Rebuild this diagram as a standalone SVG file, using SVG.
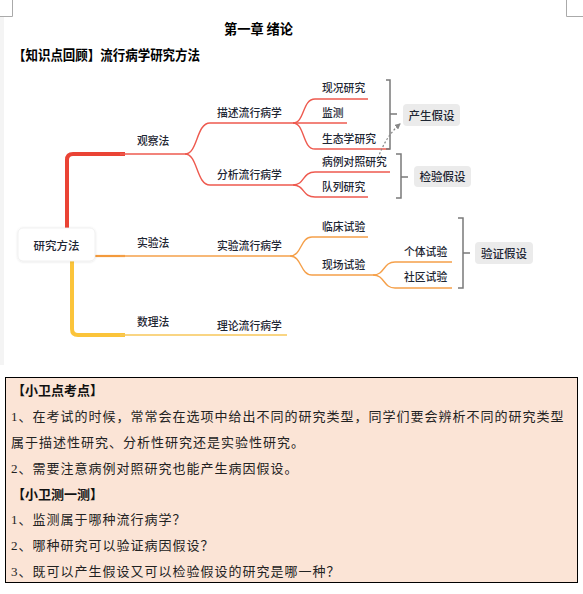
<svg xmlns="http://www.w3.org/2000/svg" width="583" height="594" viewBox="0 0 583 594">
<style>
.mm{font-family:"Noto Sans CJK SC","Noto Sans",sans-serif;font-size:10.8px;fill:#1e2633;font-weight:500}
.tag{font-family:"Noto Sans CJK SC","Noto Sans",sans-serif;font-size:11.5px;fill:#1e2633;font-weight:500}
.h{font-family:"Noto Sans CJK SC",sans-serif;font-size:13.5px;font-weight:bold;fill:#000}
.b{font-family:"Liberation Serif","Noto Sans CJK SC",serif;font-size:13px;letter-spacing:1px;fill:#222}
.bb{font-family:"Liberation Serif","Noto Sans CJK SC",serif;font-size:13px;font-weight:bold;fill:#111}
.red{fill:none;stroke:#ee5a4f;stroke-width:1.4}
.org{fill:none;stroke:#f5a04a;stroke-width:1.4}
.yel{fill:none;stroke:#f7c75a;stroke-width:1.4}
.brk{fill:none;stroke:#7a7a7a;stroke-width:1.5}
.box{fill:#ebebeb}
</style>
<defs>
<marker id="ah" markerWidth="6" markerHeight="6" refX="5" refY="3" orient="auto" markerUnits="userSpaceOnUse">
<path d="M0,0 L6,3 L0,6 Z" fill="#888"/>
</marker>
<filter id="sh" x="-20%" y="-20%" width="140%" height="150%">
<feDropShadow dx="0" dy="0.5" stdDeviation="1" flood-color="#000" flood-opacity="0.12"/>
</filter>
</defs>
<rect x="0" y="0" width="583" height="594" fill="#fff"/>
<rect x="0" y="17" width="4" height="348" fill="#f4f4f4"/>
<path d="M12.5,0 V16.5 H0" fill="none" stroke="#aaa" stroke-width="1"/>
<path d="M566.5,0 V16.5 H583" fill="none" stroke="#aaa" stroke-width="1"/>
<g id="title">
<text class="h" x="224" y="34" textLength="69" lengthAdjust="spacingAndGlyphs">第一章 绪论</text>
<text class="h" x="13" y="60" textLength="187" lengthAdjust="spacingAndGlyphs">【知识点回顾】流行病学研究方法</text>
</g>
<g id="connectors">
<path d="M67,228 V160 Q67,154 73,154 H125" fill="none" stroke="#ea4335" stroke-width="4"/>
<path class="red" d="M120,154 H185"/>
<path class="red" d="M185,154 C198,154 196,123 210,123 H293"/>
<path class="red" d="M185,154 C198,154 196,185 210,185 H293"/>
<path class="red" d="M293,123 C305,123 302,99 315,99 H368"/>
<path class="red" d="M293,123 H347"/>
<path class="red" d="M293,123 C305,123 302,149 315,149 H390"/>
<path class="red" d="M293,185 C305,185 302,172 315,172 H390"/>
<path class="red" d="M293,185 C305,185 302,197 315,197 H368"/>
<path d="M95,256 H125" fill="none" stroke="#f39a3c" stroke-width="2.2"/>
<path class="org" d="M120,256 H290"/>
<path class="org" d="M290,256 C302,256 300,237 312,237 H368"/>
<path class="org" d="M290,256 C302,256 300,275 312,275 H373"/>
<path class="org" d="M373,275 C385,275 383,262 395,262 H452"/>
<path class="org" d="M373,275 C385,275 383,288 395,288 H452"/>
<path d="M72,261 V329 Q72,335 78,335 H125" fill="none" stroke="#fbc43a" stroke-width="4"/>
<path class="yel" d="M120,335 H287"/>
<path class="brk" d="M386,80 H390 V149 H386 M390,114 H397"/>
<path class="brk" d="M396,154 H401 V198 H396 M401,177 H408"/>
<path class="brk" d="M458,218 H463 V288 H458 M463,253 H470"/>
<path d="M378,158 Q386,136 400,124" fill="none" stroke="#888" stroke-width="1.2" stroke-dasharray="2,2" marker-end="url(#ah)"/>
</g>
<g id="root">
<rect x="18" y="228" width="77" height="33" rx="5" fill="#fff" stroke="#eee" stroke-width="0.8" filter="url(#sh)"/>
<text class="tag" x="56.5" y="249.5" text-anchor="middle">研究方法</text>
</g>
<g id="n-guancha"><text class="mm" x="137" y="145">观察法</text></g>
<g id="n-miaoshu"><text class="mm" x="217" y="117">描述流行病学</text></g>
<g id="n-fenxi"><text class="mm" x="217" y="179">分析流行病学</text></g>
<g id="n-xiankuang"><text class="mm" x="322" y="92">现况研究</text></g>
<g id="n-jiance"><text class="mm" x="322" y="117">监测</text></g>
<g id="n-shengtai"><text class="mm" x="322" y="143">生态学研究</text></g>
<g id="n-bingli"><text class="mm" x="322" y="166">病例对照研究</text></g>
<g id="n-duilie"><text class="mm" x="322" y="191">队列研究</text></g>
<g id="n-shiyan"><text class="mm" x="137" y="247">实验法</text></g>
<g id="n-shiyanlx"><text class="mm" x="217" y="250">实验流行病学</text></g>
<g id="n-shuli"><text class="mm" x="137" y="326">数理法</text></g>
<g id="n-lilun"><text class="mm" x="217" y="330">理论流行病学</text></g>
<g id="n-linchuang"><text class="mm" x="322" y="231">临床试验</text></g>
<g id="n-xianchang"><text class="mm" x="322" y="269">现场试验</text></g>
<g id="n-geti"><text class="mm" x="404" y="256">个体试验</text></g>
<g id="n-shequ"><text class="mm" x="404" y="281">社区试验</text></g>
<g id="n-chansheng">
<rect class="box" x="403" y="104" width="57" height="22" rx="4"/>
<text class="tag" x="431.5" y="119.5" text-anchor="middle">产生假设</text>
</g>
<g id="n-jianyan">
<rect class="box" x="414" y="166" width="57" height="21" rx="4"/>
<text class="tag" x="442.5" y="181" text-anchor="middle">检验假设</text>
</g>
<g id="n-yanzheng">
<rect class="box" x="475" y="242" width="58" height="22" rx="4"/>
<text class="tag" x="504" y="257.5" text-anchor="middle">验证假设</text>
</g>
<g id="notes">
<rect x="5.5" y="377.5" width="572" height="205" fill="#fbe4d6" stroke="#000" stroke-width="1"/>
<text class="bb" x="12" y="395">【小卫点考点】</text>
<text class="b" x="11" y="421">1、在考试的时候，常常会在选项中给出不同的研究类型，同学们要会辨析不同的研究类型</text>
<text class="b" x="11" y="447">属于描述性研究、分析性研究还是实验性研究。</text>
<text class="b" x="11" y="473">2、需要注意病例对照研究也能产生病因假设。</text>
<text class="bb" x="12" y="499">【小卫测一测】</text>
<text class="b" x="11" y="524">1、监测属于哪种流行病学？</text>
<text class="b" x="11" y="550">2、哪种研究可以验证病因假设？</text>
<text class="b" x="11" y="576">3、既可以产生假设又可以检验假设的研究是哪一种？</text>
</g>
</svg>
